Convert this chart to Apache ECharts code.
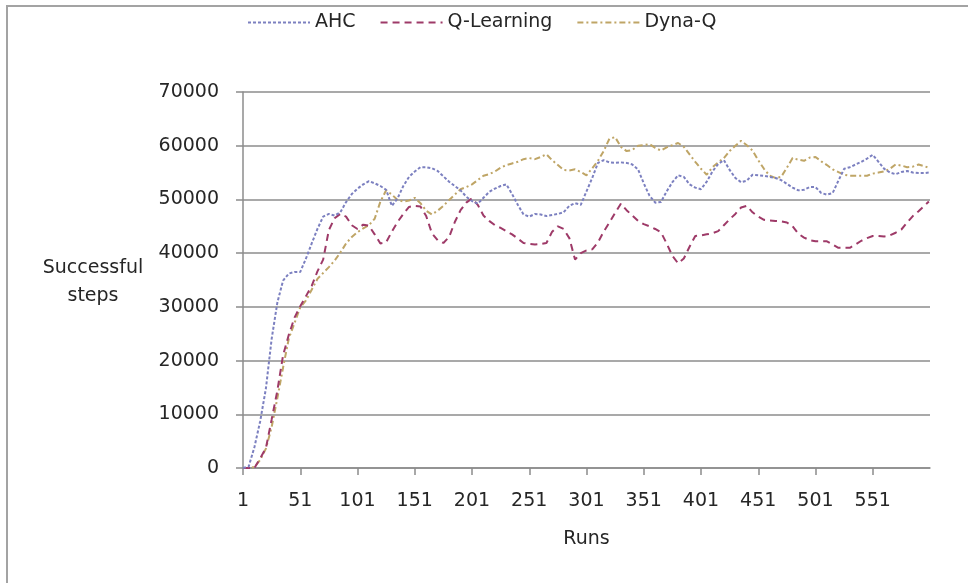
<!DOCTYPE html>
<html>
<head>
<meta charset="utf-8">
<title>Successful steps per run</title>
<script src="https://cdn.jsdelivr.net/npm/echarts@6/dist/echarts.min.js"></script>
<style>
  html, body { margin: 0; padding: 0; background: #fff; }
  #chart { width: 968px; height: 583px; }
</style>
</head>
<body>
<div id="chart"></div>
<script>
// Runs sampled every 5 runs (plus the final run)
const runs = [];
for (let r = 1; r <= 596; r += 5) runs.push(r);
runs.push(600);

const seriesNames = ['AHC', 'Q-Learning', 'Dyna-Q'];

// Successful steps (moving average) for each method, one value per sampled run
const ahcSteps = [
  0, 300, 3900, 8700, 14800, 24000, 30800, 34900, 36200, 36500,
  36500, 39000, 41800, 44500, 46800, 47300, 47000, 47600, 49500, 51000,
  52000, 52800, 53400, 53000, 52500, 51800, 48800, 50200, 52500, 54200,
  55200, 56000, 56000, 55800, 55300, 54300, 53300, 52500, 51700, 50500,
  49700, 49200, 50300, 51400, 52000, 52500, 52800, 51000, 49000, 47200,
  46800, 47300, 47200, 46900, 47100, 47300, 47600, 48800, 49300, 49000,
  51500, 54000, 56800, 57300, 56900, 56800, 56900, 56800, 56500, 55600,
  53000, 50700, 49400, 49500, 51500, 53200, 54500, 54200, 52800, 52200,
  51900, 53300, 55200, 56600, 57300, 55500, 54000, 53200, 53500, 54600,
  54500, 54400, 54200, 54000, 53600, 52900, 52200, 51700, 51800, 52300,
  52300, 51200, 50900, 51200, 53500, 55700, 56000, 56500, 57000, 57600,
  58300, 57000, 55700, 55000, 54700, 55100, 55300, 55000, 54900, 54900,
  55000
];

const qLearningSteps = [
  0, 0, 0, 1800, 3700, 9000, 14400, 21000, 24800, 28000,
  30100, 32000, 33900, 36600, 38800, 44300, 46500, 47300, 46800, 45200,
  44500, 45300, 45100, 43500, 41800, 42000, 44000, 45800, 47300, 48600,
  48800, 48700, 46900, 43700, 42400, 41900, 43000, 45800, 48000, 49400,
  50200, 49000, 47000, 46000, 45200, 44700, 44100, 43500, 42700, 41900,
  41700, 41600, 41700, 41900, 44000, 45000, 44500, 42800, 38800, 40000,
  40500, 40700, 42000, 44000, 45700, 47500, 49200, 48000, 47000, 46000,
  45400, 45000, 44500, 43900, 41800, 39500, 38100, 39000, 41200, 43200,
  43300, 43500, 43700, 44100, 45200, 46300, 47300, 48500, 48800, 47600,
  46800, 46200, 46100, 46000, 45900, 45700, 45000, 43600, 42900, 42400,
  42200, 42200, 42200, 41600, 41000, 41000, 41000, 41600, 42300, 42800,
  43200, 43200, 43100, 43300, 43800, 44400, 45700, 46900, 47800, 48800,
  49600
];

const dynaQSteps = [
  0, 0, 200, 1500, 3600, 7600, 13000, 18700, 24100, 27000,
  29900, 31200, 33200, 35200, 36300, 37400, 38600, 40100, 41800, 43000,
  43900, 44600, 45200, 46400, 49600, 51700, 50900, 49900, 49600, 49800,
  50300, 49300, 47900, 47200, 47900, 48800, 49900, 50900, 51900, 52300,
  52800, 53600, 54400, 54700, 55200, 55900, 56400, 56700, 57000, 57500,
  57700, 57500, 57900, 58400, 57300, 56400, 55500, 55400, 55600, 55100,
  54500, 55800, 57200, 59000, 61300, 61600, 59800, 59000, 59200, 60000,
  60100, 60300, 59600, 59100, 59700, 60100, 60500, 59800, 58400, 57000,
  55700, 54600, 56000, 56900, 57700, 59000, 60000, 60900, 60100, 59100,
  57300, 55700, 54400, 54000, 54200, 55900, 57700, 57400, 57200, 57800,
  57900, 57100, 56400, 55600, 55100, 54600, 54400, 54400, 54400, 54400,
  54800, 55000, 55200, 55700, 56500, 56300, 56000, 56100, 56500, 56200,
  55900
];

const FONT = 'DejaVu Sans';
const TEXT = '#262626';
const GRID = '#8c8c8c';

const pairs = vals => runs.map((r, i) => [r, vals[i]]);

const chart = echarts.init(document.getElementById('chart'), null, { renderer: 'canvas' });

chart.setOption({
  animation: false,
  backgroundColor: '#ffffff',
  textStyle: { fontFamily: FONT, color: TEXT },
  graphic: [
    {
      type: 'rect',
      silent: true,
      shape: { x: 7, y: 6, width: 1000, height: 1000 },
      style: { fill: 'none', stroke: '#a3a3a3', lineWidth: 2 }
    },
    {
      type: 'text',
      silent: true,
      x: 93,
      y: 282,
      style: {
        text: 'Successful\nsteps',
        font: '19px "DejaVu Sans"',
        fill: TEXT,
        align: 'center',
        verticalAlign: 'middle',
        lineHeight: 28
      }
    }
  ],
  legend: {
    top: 8,
    left: 242,
    itemWidth: 62,
    itemHeight: 14,
    itemGap: 24,
    itemStyle: { opacity: 0 },
    textStyle: { fontFamily: FONT, fontSize: 19, color: TEXT },
    data: seriesNames
  },
  grid: { left: 243, right: 38, top: 92, bottom: 115, containLabel: false },
  xAxis: {
    type: 'value',
    min: 1,
    max: 601,
    interval: 50,
    name: 'Runs',
    nameLocation: 'middle',
    nameGap: 62,
    nameTextStyle: { fontFamily: FONT, fontSize: 19, color: TEXT },
    axisLine: { show: true, onZero: false, lineStyle: { color: GRID, width: 1.5 } },
    axisTick: { show: true, inside: false, length: 7, lineStyle: { color: GRID, width: 1.5 } },
    axisLabel: {
      fontFamily: FONT, fontSize: 19, color: TEXT, margin: 24,
      showMaxLabel: false,
      formatter: v => String(v)
    },
    splitLine: { show: false }
  },
  yAxis: {
    type: 'value',
    min: 0,
    max: 70000,
    interval: 10000,
    axisLine: { show: true, lineStyle: { color: GRID, width: 1.5 } },
    axisTick: { show: true, inside: false, length: 7, lineStyle: { color: GRID, width: 1.5 } },
    axisLabel: {
      fontFamily: FONT, fontSize: 19, color: TEXT, margin: 24,
      formatter: v => String(v)
    },
    splitLine: { show: true, lineStyle: { color: GRID, width: 1.5 } }
  },
  series: [
    {
      name: seriesNames[0],
      type: 'line',
      data: pairs(ahcSteps),
      symbol: 'none',
      smooth: false,
      lineStyle: { color: '#7c80c0', width: 2, type: [3, 2] },
      itemStyle: { color: '#7c80c0' },
      z: 3
    },
    {
      name: seriesNames[1],
      type: 'line',
      data: pairs(qLearningSteps),
      symbol: 'none',
      smooth: false,
      lineStyle: { color: '#9e3a68', width: 2, type: [7, 5] },
      itemStyle: { color: '#9e3a68' },
      z: 2
    },
    {
      name: seriesNames[2],
      type: 'line',
      data: pairs(dynaQSteps),
      symbol: 'none',
      smooth: false,
      lineStyle: { color: '#bfa566', width: 2, type: [6, 3, 2, 3] },
      itemStyle: { color: '#bfa566' },
      z: 1
    }
  ]
});
</script>
</body>
</html>
